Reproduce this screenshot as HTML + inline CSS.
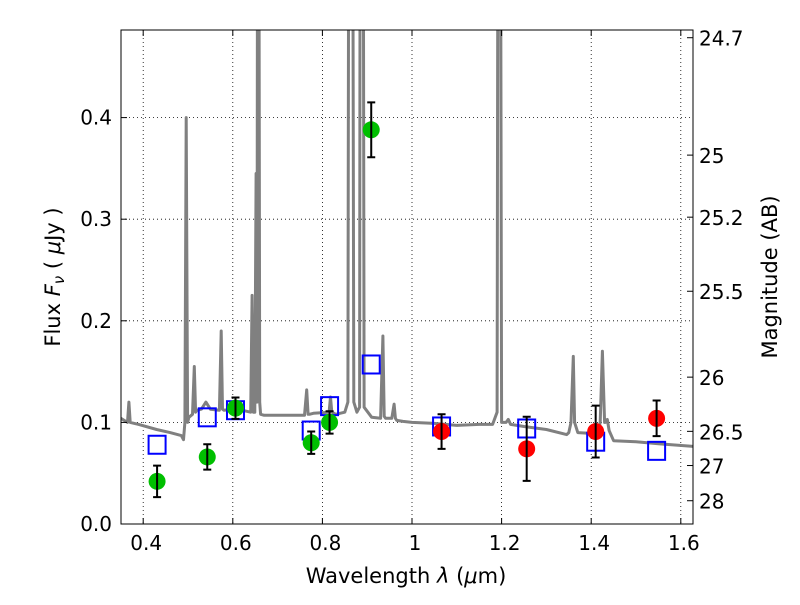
<!DOCTYPE html>
<html><head><meta charset="utf-8">
<style>
html,body{margin:0;padding:0;background:#fff;}
svg text{font-family:"DejaVu Sans","Liberation Sans",sans-serif;fill:#000;}
</style></head>
<body>
<svg id="chart" width="800" height="600" viewBox="0 0 800 600" xmlns="http://www.w3.org/2000/svg">
<defs><clipPath id="plotclip"><rect x="121" y="30" width="572" height="494"/></clipPath></defs>
<rect x="0" y="0" width="800" height="600" fill="#fff"/>
<g id="grid"></g>
<g id="spec" clip-path="url(#plotclip)"></g>
<g id="marks"></g>
<rect x="121" y="30" width="572" height="494" fill="none" stroke="#000" stroke-width="1"/>
<g id="axes"></g>
<text x="406" y="583" font-size="21" text-anchor="middle">Wavelength  <tspan font-style="italic">λ</tspan> (<tspan font-style="italic">μ</tspan>m)</text>
<text transform="translate(60,277) rotate(-90)" font-size="21" text-anchor="middle">Flux  <tspan font-style="italic">F</tspan><tspan font-style="italic" font-size="15" dy="4">ν</tspan><tspan dy="-4">  ( </tspan><tspan font-style="italic">μ</tspan>Jy )</text>
<text transform="translate(777,277) rotate(-90)" font-size="21" text-anchor="middle">Magnitude (AB)</text>
</svg>
<script>
const xTicks=[0.4,0.6,0.8,1.0,1.2,1.4,1.6];
const xTickLabels=["0.4","0.6","0.8","1","1.2","1.4","1.6"];
const yTicks=[0,0.1,0.2,0.3,0.4];
const yTickLabels=["0.0","0.1","0.2","0.3","0.4"];
const magTicks=[24.7,25,25.2,25.5,26,26.5,27,28];
const magTickLabels=["24.7","25","25.2","25.5","26","26.5","27","28"];
const specWave=[0.35,0.365,0.368,0.371,0.39,0.43,0.46,0.485,0.49,0.493,0.496,0.499,0.502,0.51,0.514,0.517,0.52,0.53,0.54,0.55,0.57,0.574,0.577,0.58,0.6,0.62,0.64,0.643,0.646,0.649,0.652,0.654,0.656,0.657,0.66,0.662,0.67,0.7,0.74,0.76,0.765,0.768,0.771,0.78,0.815,0.818,0.821,0.83,0.85,0.857,0.86,0.866,0.87,0.877,0.883,0.885,0.89,0.893,0.91,0.93,0.935,0.938,0.941,0.955,0.96,0.963,0.966,0.98,1.0,1.05,1.1,1.15,1.18,1.19,1.193,1.196,1.2,1.21,1.215,1.22,1.25,1.3,1.345,1.35,1.355,1.36,1.363,1.37,1.41,1.415,1.42,1.425,1.43,1.432,1.436,1.44,1.45,1.5,1.55,1.64];
const specFlux=[0.104,0.1,0.12,0.1,0.098,0.093,0.09,0.087,0.083,0.1,0.4,0.1,0.105,0.108,0.155,0.11,0.112,0.113,0.12,0.113,0.112,0.19,0.113,0.112,0.113,0.112,0.11,0.225,0.11,0.11,0.345,0.12,1.0,1.0,0.12,0.108,0.107,0.107,0.107,0.107,0.132,0.108,0.108,0.109,0.11,0.125,0.11,0.108,0.11,0.12,1.0,1.0,0.12,0.11,0.115,1.0,1.0,0.115,0.105,0.104,0.185,0.106,0.104,0.104,0.118,0.104,0.102,0.101,0.1,0.099,0.097,0.098,0.098,0.11,1.0,1.0,0.1,0.1,0.103,0.098,0.096,0.093,0.088,0.09,0.1,0.165,0.1,0.09,0.089,0.09,0.1,0.17,0.1,0.1,0.103,0.092,0.082,0.081,0.079,0.076];
const photWave=[0.431,0.543,0.606,0.775,0.816,0.909,1.066,1.256,1.41,1.546];
const obsFlux=[0.042,0.066,0.114,0.080,0.100,0.388,0.091,0.074,0.091,0.104];
const obsErr=[0.0155,0.0125,0.0105,0.011,0.011,0.027,0.017,0.0315,0.0255,0.0175];
const obsIsRed=[0,0,0,0,0,0,1,1,1,1];
const modelFlux=[0.078,0.105,0.112,0.092,0.116,0.157,0.096,0.094,0.081,0.072];

const NS="http://www.w3.org/2000/svg";
function X(w){return 412+(w-1)*448;}
function Y(f){return 524-f*1016;}
function mk(tag,attrs,parent){const e=document.createElementNS(NS,tag);for(const k in attrs)e.setAttribute(k,attrs[k]);parent.appendChild(e);return e;}
const grid=document.getElementById('grid'),axes=document.getElementById('axes'),spec=document.getElementById('spec'),marks=document.getElementById('marks');

xTicks.forEach((t,i)=>{
  const x=X(t);
  const g=mk('line',{x1:x,x2:x,y1:30,y2:524,stroke:'#000','stroke-width':0.8,'stroke-dasharray':'1,3'},grid);
  
  
  mk('line',{x1:x,x2:x,y1:524,y2:518,stroke:'#000'},axes);
  mk('line',{x1:x,x2:x,y1:30,y2:36,stroke:'#000'},axes);
  const tx=mk('text',{x:x+3,y:550,'font-size':20,'text-anchor':'middle'},axes);
  tx.textContent=xTickLabels[i];
  
  
});
yTicks.forEach((t,i)=>{
  const y=Y(t);
  if(t>0){const g=mk('line',{x1:121,x2:693,y1:y,y2:y,stroke:'#000','stroke-width':0.8,'stroke-dasharray':'1,3'},grid);
  
  }
  mk('line',{x1:121,x2:127,y1:y,y2:y,stroke:'#000'},axes);
  const tx=mk('text',{x:112,y:y+7,'font-size':20,'text-anchor':'end'},axes);
  tx.textContent=yTickLabels[i];
  
  
});
magTicks.forEach((m,i)=>{
  const y=Y(Math.pow(10,(23.9-m)/2.5));
  mk('line',{x1:693,x2:687,y1:y,y2:y,stroke:'#000'},axes);
  const tx=mk('text',{x:699,y:y+8,'font-size':20},axes);
  tx.textContent=magTickLabels[i];
  
  
});

let d='';
specWave.forEach((w,i)=>{d+=(i?'L':'M')+X(w).toFixed(1)+','+Y(specFlux[i]).toFixed(1);});
const sp=mk('path',{d:d,fill:'none',stroke:'#808080','stroke-width':3,'stroke-linejoin':'round'},spec);



photWave.forEach((w,i)=>{
  const x=X(w);
  const sq=mk('rect',{x:x-8.5,y:Y(modelFlux[i])-9,width:17,height:18,fill:'none',stroke:'#0000ff','stroke-width':2},marks);
  
  
});
photWave.forEach((w,i)=>{
  const x=X(w),y=Y(obsFlux[i]);
  const c=mk('circle',{cx:x,cy:y,r:8.5,fill:obsIsRed[i]?'#ff0000':'#00bf00'},marks);
  
  
  const y1=Y(obsFlux[i]+obsErr[i]),y2=Y(obsFlux[i]-obsErr[i]);
  const eb=mk('path',{d:`M${x},${y1}L${x},${y2}M${x-4},${y1}L${x+4},${y1}M${x-4},${y2}L${x+4},${y2}`,stroke:'#000','stroke-width':2,fill:'none'},marks);
  
  
});
</script>
</body></html>
